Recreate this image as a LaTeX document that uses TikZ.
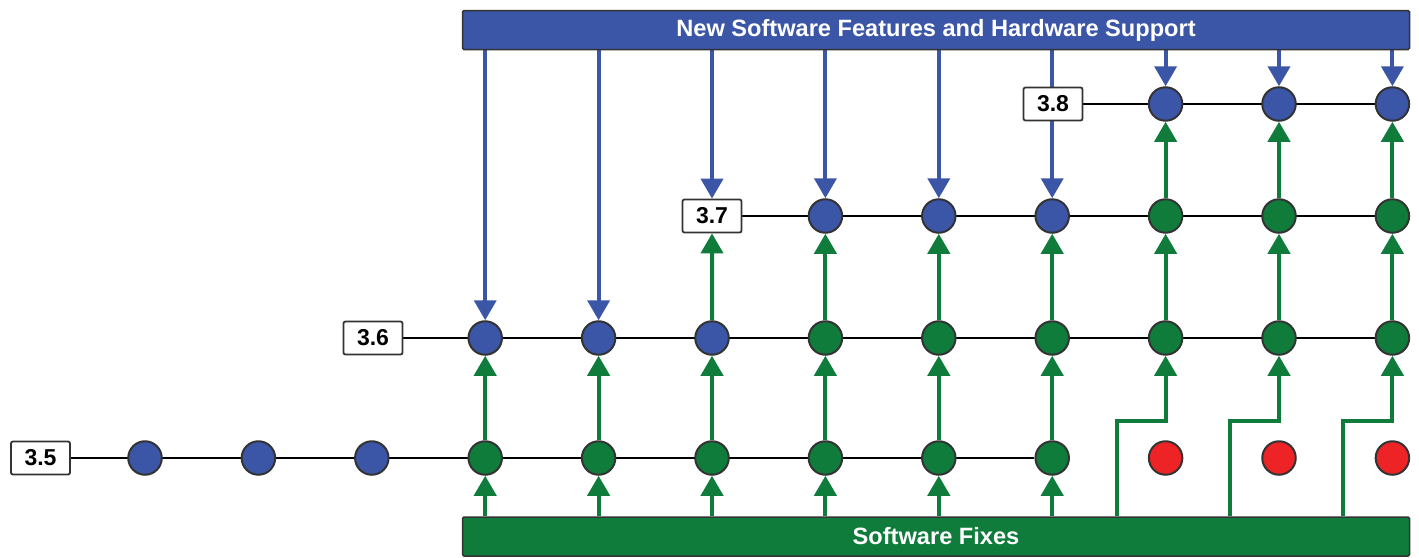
\documentclass[tikz,border=0pt]{standalone}
\usepackage{fontspec}
\setmainfont{Liberation Sans}
\usetikzlibrary{arrows.meta,backgrounds}
\definecolor{relblue}{HTML}{3B56A6}
\definecolor{relgreen}{HTML}{0F7C3B}
\definecolor{relred}{HTML}{EE2326}
\definecolor{rim}{HTML}{333333}
\begin{document}
\begin{tikzpicture}[x=1pt,y=-1pt,
  rel/.style={circle,draw=rim,line width=2pt,minimum size=33.5pt,inner sep=0pt},
  feat/.style={rel,fill=relblue},
  fix/.style={rel,fill=relgreen},
  dead/.style={rel,fill=relred},
  verbox/.style={draw=rim,fill=white,line width=1.8pt,rounded corners=2pt,
    minimum width=59pt,minimum height=33pt,inner sep=0pt,
    font=\fontsize{23}{23}\selectfont\bfseries},
  bar/.style={draw=rim,line width=1.5pt,rounded corners=1.5pt,
    minimum width=947pt,minimum height=39pt,inner sep=0pt,text=white,
    font=\fontsize{23.6}{23.6}\selectfont\bfseries},
  branch/.style={black,line width=2.5pt},
  up/.style={relgreen,line width=4pt,-{Triangle[width=22pt,length=20pt]}},
  down/.style={relblue,line width=4pt,-{Triangle[width=22pt,length=20pt]}}]
\useasboundingbox (0,0) rectangle (1419,557);

% feature and fix bars
\node[bar,fill=relblue] (top) at (936,30) {New Software Features and Hardware Support};
\node[bar,fill=relgreen] (bot) at (936,536.5) {Software Fixes};

% release branches
\foreach \i/\s in {1/feat,2/feat,3/feat,4/fix,5/fix,6/fix,7/fix,8/fix,9/fix,10/dead,11/dead,12/dead}
  \node[\s] (a\i) at ({145+(\i-1)*113.4},458) {};
\foreach \i/\s in {4/feat,5/feat,6/feat,7/fix,8/fix,9/fix,10/fix,11/fix,12/fix}
  \node[\s] (b\i) at ({145+(\i-1)*113.4},338) {};
\foreach \i/\s in {7/feat,8/feat,9/feat,10/fix,11/fix,12/fix}
  \node[\s] (c\i) at ({145+(\i-1)*113.4},216) {};
\foreach \i in {10,11,12}
  \node[feat] (d\i) at ({145+(\i-1)*113.4},104) {};

% version labels
\node[verbox] (v35) at (40.5,458) {3.5};
\node[verbox] (v36) at (373,338) {3.6};
\node[verbox] (v37) at (712,216) {3.7};
\node[verbox] (v38) at (1053,104) {3.8};

% fix routes to the newer branches
\coordinate (k10) at (1117,421);
\coordinate (k11) at (1230,421);
\coordinate (k12) at (1343,421);

\begin{pgfonlayer}{background}
  \draw[branch] (v35.east) -- (a9);
  \draw[branch] (v36.east) -- (b12);
  \draw[branch] (v37.east) -- (c12);
  \draw[branch] (v38.east) -- (d12);

  % new features flow down
  \foreach \i in {4,5} \draw[down] (b\i |- top.south) -- (b\i.north);
  \draw[down] (v37 |- top.south) -- (v37.north);
  \foreach \i in {7,8,9} \draw[down] (c\i |- top.south) -- (c\i.north);
  \foreach \i in {10,11,12} \draw[down] (d\i |- top.south) -- (d\i.north);

  % fixes flow up
  \foreach \i in {4,...,9} {
    \draw[up] (a\i |- bot.north) -- (a\i.south);
    \draw[up] (a\i.north) -- (b\i.south);
  }
  \draw[up] (b6.north) -- (v37.south);
  \foreach \i in {7,...,12} \draw[up] (b\i.north) -- (c\i.south);
  \foreach \i in {10,11,12} {
    \draw[up] (c\i.north) -- (d\i.south);
    \draw[up] (k\i |- bot.north) -- (k\i) -- (k\i -| b\i) -- (b\i.south);
  }
\end{pgfonlayer}
\end{tikzpicture}
\end{document}
